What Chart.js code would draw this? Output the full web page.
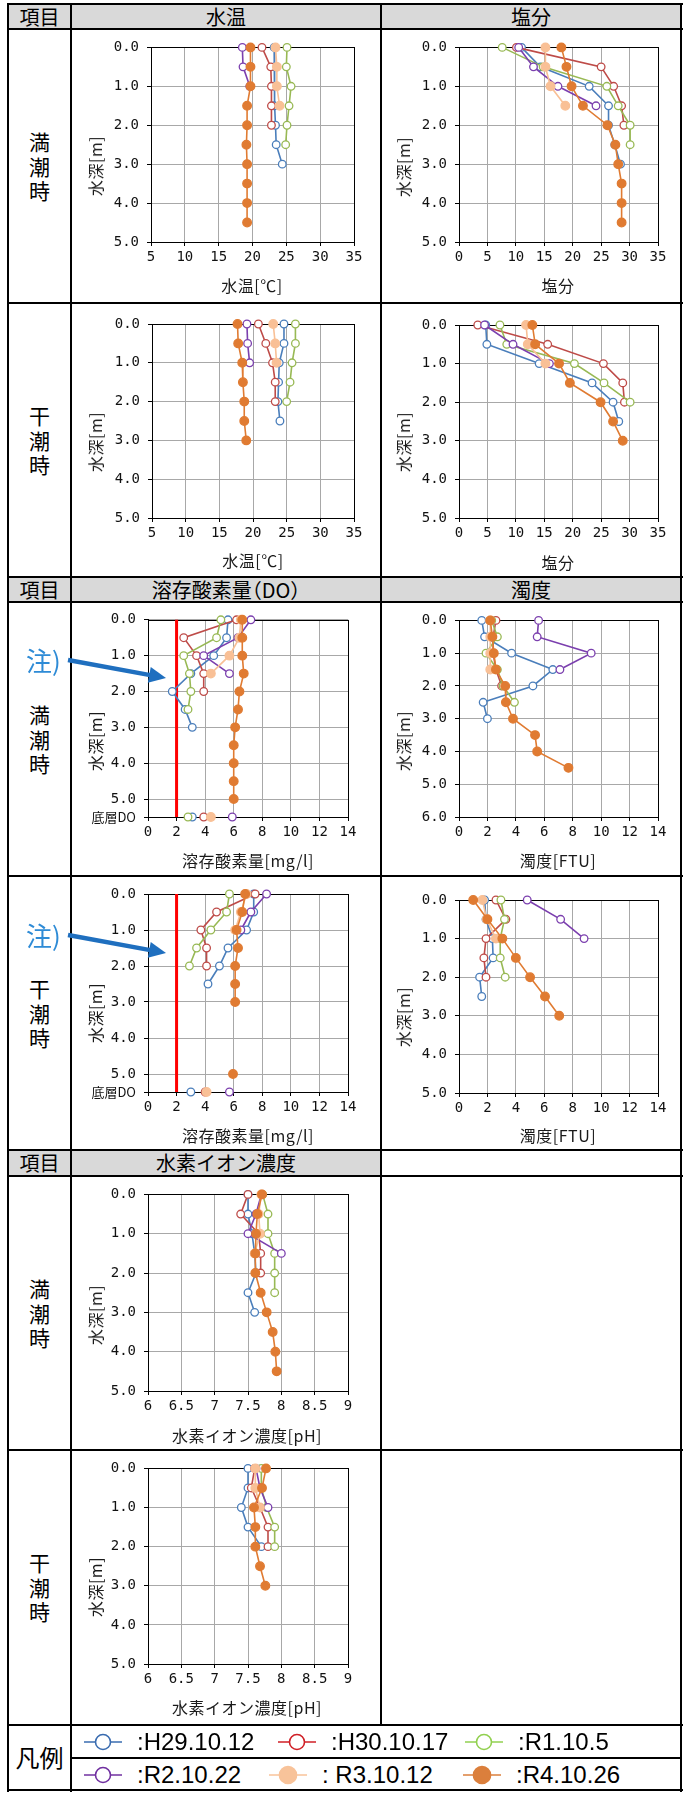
<!DOCTYPE html>
<html lang="ja">
<head>
<meta charset="utf-8">
<title>水質鉛直分布の経年比較</title>
<script src="https://cdn.jsdelivr.net/npm/chart.js@4.4.1/dist/chart.umd.min.js"></script>
<style>
html,body{margin:0;padding:0;background:#fff}
#sheet{position:relative;width:684px;height:1793px;overflow:hidden;font-family:"Noto Sans CJK JP","Noto Sans",sans-serif;color:#000}
.rule{position:absolute;background:#000}
.hdr{position:absolute;background:#d9d9d9}
.txt{position:absolute;white-space:nowrap;transform:translate(-50%,-50%);line-height:1}
.paren{font-feature-settings:"halt"}
.vt{position:absolute;transform:translate(-50%,-50%);font-size:21px;line-height:24.5px;width:26px;text-align:center}
.ytitle{position:absolute;white-space:nowrap;font-size:16px;letter-spacing:0.5px;line-height:1;color:#1a1a1a;transform:translate(-50%,-50%) rotate(-90deg)}
.xtitle{position:absolute;white-space:nowrap;font-size:16px;letter-spacing:0.5px;line-height:1;color:#1a1a1a;transform:translate(-50%,-50%)}
.note{position:absolute;font-size:26px;line-height:1;color:#2E8BD6;transform:translate(0,-50%);white-space:nowrap}
.leg{position:absolute;font-family:"Liberation Sans",Arial,sans-serif;font-size:24px;line-height:24px;white-space:nowrap;color:#000}
canvas{position:absolute}
svg{position:absolute;overflow:visible}
</style>
</head>
<body>
<div id="sheet"></div>
<script>
// ---- survey dates and depth levels ----
const surveyDates = ['H29.10.12', 'H30.10.17', 'R1.10.5', 'R2.10.22', 'R3.10.12', 'R4.10.26'];
const depths = [0, 0.5, 1.0, 1.5, 2.0, 2.5, 3.0, 3.5, 4.0, 4.5, 5.0];
const bottomDepth = 5.5;           // row used for the bottom-layer DO
const doLimit = 2;                 // DO reference value [mg/l]

// ---- tick labels ----
const depthTicks = [0, 1, 2, 3, 4, 5];
const depthTicksTurbHigh = [0, 1, 2, 3, 4, 5, 6];
const depthTicksDO = [0, 1, 2, 3, 4, 5, 5.5];
const tempTicks = [5, 10, 15, 20, 25, 30, 35];
const salTicks = [0, 5, 10, 15, 20, 25, 30, 35];
const doTicks = [0, 2, 4, 6, 8, 10, 12, 14];
const turbTicks = [0, 2, 4, 6, 8, 10, 12, 14];
const phTicks = [6, 6.5, 7, 7.5, 8, 8.5, 9];

// ---- water temperature [°C], high tide ----
const tempHighH29 = [23.2, 23.3, 23.3, 23.2, 23.4, 23.5, 24.4];
const tempHighH30 = [21.4, 22.7, 22.8, 22.8, 22.8];
const tempHighR1 = [25.1, 25.0, 25.7, 25.4, 25.1, 24.9];
const tempHighR2 = [18.5, 18.6, 19.6];
const tempHighR3 = [23.4, 23.6, 23.6, 24.0];
const tempHighR4 = [19.7, 19.7, 19.7, 19.2, 19.2, 19.1, 19.2, 19.2, 19.2, 19.2];

// ---- salinity, high tide ----
const salHighH29 = [11.0, 14.3, 22.9, 26.3, 26.3, 27.4, 28.4];
const salHighH30 = [10.1, 25.0, 27.2, 28.6, 29.0];
const salHighR1 = [7.6, 14.8, 26.0, 28.0, 30.1, 30.1];
const salHighR2 = [10.5, 13.1, 17.4, 24.1];
const salHighR3 = [15.2, 15.2, 16.1, 18.7];
const salHighR4 = [18.0, 18.9, 19.8, 21.8, 26.1, 27.5, 28.0, 28.6, 28.6, 28.6];

// ---- water temperature [°C], low tide ----
const tempLowH29 = [24.6, 24.6, 23.9, 23.8, 23.7, 24.0];
const tempLowH30 = [20.8, 21.9, 22.9, 23.3, 23.3];
const tempLowR1 = [26.3, 26.3, 25.8, 25.5, 25.0];
const tempLowR2 = [19.1, 19.2, 19.5];
const tempLowR3 = [23.0, 23.3, 23.5];
const tempLowR4 = [17.7, 17.8, 18.4, 18.5, 18.7, 18.7, 19.0];

// ---- salinity, low tide ----
const salLowH29 = [4.7, 4.9, 14.1, 23.4, 27.1, 28.1];
const salLowH30 = [3.3, 15.6, 25.4, 28.8, 29.1];
const salLowR1 = [7.2, 8.4, 20.3, 25.5, 30.1];
const salLowR2 = [4.5, 9.5, 15.9];
const salLowR3 = [11.8, 12.1, 15.2];
const salLowR4 = [12.9, 13.4, 17.6, 19.5, 24.9, 27.1, 28.8];

// ---- dissolved oxygen [mg/l], high tide ----
const doHighH29 = [5.6, 5.5, 4.6, 3.0, 1.7, 2.6, 3.1];
const doHighH30 = [6.2, 2.5, 3.4, 3.9, 3.9];
const doHighR1 = [5.1, 4.8, 2.5, 2.9, 3.0, 2.8];
const doHighR2 = [7.2, 6.3, 3.9, 5.7];
const doHighR3 = [6.5, 6.4, 5.7, 4.4];
const doHighR4 = [6.6, 6.6, 6.6, 6.7, 6.4, 6.3, 6.1, 6.0, 6.0, 6.0, 6.0];
const doHighBottom = [3.1, 3.9, 2.8, 5.9, 4.4, null];

// ---- turbidity [FTU], high tide ----
const turbHighH29 = [1.6, 1.8, 3.7, 6.6, 5.2, 1.7, 2.0];
const turbHighH30 = [2.6, 2.4, 2.4, 2.6, 3.0];
const turbHighR1 = [2.3, 2.7, 1.9, 2.7, 3.1, 3.9];
const turbHighR2 = [5.6, 5.5, 9.3, 7.1];
const turbHighR3 = [2.2, 2.2, 2.2, 2.2];
const turbHighR4 = [2.2, 2.35, 2.45, 2.6, 3.25, 3.3, 3.8, 5.35, 5.5, 7.7];

// ---- dissolved oxygen [mg/l], low tide ----
const doLowH29 = [7.4, 7.4, 6.9, 5.6, 5.0, 4.2];
const doLowH30 = [7.5, 4.8, 3.7, 4.1, 4.1];
const doLowR1 = [5.7, 5.5, 4.4, 3.4, 2.9];
const doLowR2 = [8.3, 7.2, 6.5];
const doLowR3 = [6.9, 6.5, 6.1];
const doLowR4 = [6.8, 6.6, 6.2, 6.3, 6.1, 6.1, 6.1, null, null, null, 5.95];
const doLowBottom = [3.0, 4.0, null, 5.7, 4.1, null];

// ---- turbidity [FTU], low tide ----
const turbLowH29 = [1.8, 1.9, 2.35, 2.4, 1.45, 1.6];
const turbLowH30 = [2.6, 3.3, 1.9, 1.75, 1.9];
const turbLowR1 = [2.95, 3.2, 2.9, 2.9, 3.25];
const turbLowR2 = [4.8, 7.15, 8.8];
const turbLowR3 = [1.65, 1.95, 2.6];
const turbLowR4 = [1.0, 2.0, 3.05, 4.0, 5.0, 6.05, 7.05];

// ---- pH, high tide ----
const phHighH29 = [7.5, 7.5, 7.56, 7.6, 7.62, 7.5, 7.6];
const phHighH30 = [7.5, 7.39, 7.66, 7.69, 7.69];
const phHighR1 = [7.72, 7.8, 7.8, 7.9, 7.9, 7.9];
const phHighR2 = [7.7, 7.62, 7.5, 8.0];
const phHighR3 = [7.7, 7.66, 7.68, 7.6];
const phHighR4 = [7.71, 7.64, 7.62, 7.61, 7.61, 7.69, 7.78, 7.87, 7.91, 7.93];

// ---- pH, low tide ----
const phLowH29 = [7.5, 7.5, 7.4, 7.5, 7.7];
const phLowH30 = [7.6, 7.55, 7.68, 7.8, 7.8];
const phLowR1 = [7.7, 7.7, 7.78, 7.9, 7.9];
const phLowR2 = [7.62, 7.68, 7.8];
const phLowR3 = [7.61, 7.61, 7.68];
const phLowR4 = [7.77, 7.71, 7.59, 7.61, 7.61, 7.68, 7.76];

// ---- series styling ----
const seriesColors = ['#4A7EBB', '#BE4B48', '#98B954', '#7B3FAE', '#F9C096', '#E07B32'];
const seriesFilled = [false, false, false, false, true, true];
const legendColors = ['#3A6CB0', '#D01F26', '#92D050', '#7030A0', '#F8C39A', '#DB7F3C'];

const sheet = document.getElementById('sheet');
function el(tag, cls, css, text) {
  const e = document.createElement(tag);
  if (cls) e.className = cls;
  Object.assign(e.style, css || {});
  if (text !== undefined) e.textContent = text;
  sheet.appendChild(e);
  return e;
}
const px = v => v + 'px';

// ---- table frame ----
const hdrRows = [[4, 29, true], [577, 602, true], [1150, 1176, false]];
hdrRows.forEach(([t, b, both]) => {
  el('div', 'hdr', {left: px(8), top: px(t), width: px(both ? 673 : 373), height: px(b - t)});
});
[4, 29, 303, 577, 602, 876, 1150, 1176, 1450, 1725, 1790].forEach(y =>
  el('div', 'rule', {left: px(7), top: px(y - 1), width: px(676), height: px(2)}));
el('div', 'rule', {left: px(71), top: px(1757), width: px(611), height: px(2)});
[[8, 4, 1791], [71, 4, 1791], [381, 4, 1725], [681, 4, 1791]].forEach(([x, t, b]) =>
  el('div', 'rule', {left: px(x - 1), top: px(t - 1), width: px(2), height: px(b - t + 2)}));

// header captions
[[16.5, '項目', '水温', '塩分'], [589.5, '項目', '溶存酸素量（DO）', '濁度'], [1163, '項目', '水素イオン濃度', '']]
  .forEach(([y, a, b, c]) => {
    el('div', 'txt', {left: px(39.5), top: px(y), fontSize: '20px'}, a);
    el('div', 'txt paren', {left: px(226), top: px(y), fontSize: '20px'}, b);
    if (c) el('div', 'txt', {left: px(531), top: px(y), fontSize: '20px'}, c);
  });

// tide labels in the first column
const rowCentres = [[166, '満潮時'], [440, '干潮時'], [739, '満潮時'], [1013, '干潮時'], [1313, '満潮時'], [1587, '干潮時']];
rowCentres.forEach(([y, s]) => {
  const d = el('div', 'vt', {left: px(39.5), top: px(y)});
  d.innerHTML = s.split('').join('<br>');
});
el('div', 'txt', {left: px(39.5), top: px(1757), fontSize: '24px'}, '凡例');

// ---- chart helpers ----
const Y_W = 60, X_H = 26;
const tickFont = {family: "'DejaVu Sans Mono',monospace", size: 14};
const cjkTickFont = {family: "'Noto Sans CJK JP',sans-serif", size: 13};

const plotFrame = {
  id: 'plotFrame',
  beforeDatasetsDraw(chart) {
    const {ctx, chartArea: a} = chart;
    ctx.save();
    ctx.strokeStyle = '#000';
    ctx.lineWidth = 1;
    ctx.strokeRect(Math.round(a.left) + 0.5, Math.round(a.top) + 0.5,
      Math.round(a.right) - Math.round(a.left), Math.round(a.bottom) - Math.round(a.top));
    ctx.restore();
  }
};

function seriesDataset(values, i, yOf) {
  const filled = seriesFilled[i];
  return {
    label: surveyDates[i],
    data: values.map((v, k) => ({x: v, y: yOf ? yOf(k) : depths[k]})),
    showLine: true,
    spanGaps: false,
    clip: false,
    borderColor: seriesColors[i],
    borderWidth: 1.6,
    pointRadius: filled ? 4.3 : 3.8,
    pointBorderWidth: 1.3,
    pointBorderColor: seriesColors[i],
    pointBackgroundColor: filled ? seriesColors[i] : '#ffffff',
    order: 10 - i
  };
}

function profileChart(spec) {
  const [cl, ct, cr, cb] = spec.cell;
  const [pl, pt, pr, pb] = spec.plot;
  const cv = document.createElement('canvas');
  cv.width = cr - cl; cv.height = cb - ct;
  Object.assign(cv.style, {left: px(cl), top: px(ct), width: px(cr - cl), height: px(cb - ct)});
  sheet.appendChild(cv);

  const datasets = spec.series.map((vals, i) => seriesDataset(vals, i));
  if (spec.bottom) {
    spec.bottom.forEach((v, i) => {
      if (v === null) return;
      const ds = seriesDataset([v], i, () => bottomDepth);
      ds.showLine = false;
      datasets.push(ds);
    });
  }
  if (spec.limit !== undefined) {
    datasets.push({
      label: 'limit',
      data: [{x: spec.limit, y: 0}, {x: spec.limit, y: spec.yMax}],
      showLine: true, clip: false, borderColor: '#FF0000', borderWidth: 3,
      pointRadius: 0, order: 50
    });
  }

  const gridOpts = {color: '#A8A8A8', lineWidth: 1, tickLength: 4, tickColor: '#000', drawTicks: true};

  new Chart(cv, {
    type: 'scatter',
    data: {datasets},
    options: {
      responsive: false, animation: false, devicePixelRatio: 1,
      layout: {padding: {left: pl - cl - Y_W, top: pt - ct, right: cr - pr, bottom: cb - pb - X_H}},
      plugins: {legend: {display: false}, tooltip: {enabled: false}},
      scales: {
        x: {
          type: 'linear', position: 'bottom',
          min: spec.xTicks[0], max: spec.xTicks[spec.xTicks.length - 1],
          afterBuildTicks: s => { s.ticks = spec.xTicks.map(v => ({value: v})); },
          afterFit: s => { s.height = X_H; },
          grid: gridOpts,
          border: {color: '#000', width: 1},
          ticks: {autoSkip: false, maxRotation: 0, padding: 3, color: '#111', font: tickFont,
            callback: v => String(v)}
        },
        y: {
          type: 'linear', position: 'left', reverse: true,
          min: 0, max: spec.yMax,
          afterBuildTicks: s => { s.ticks = spec.yTicks.map(v => ({value: v})); },
          afterFit: s => { s.width = Y_W; },
          grid: gridOpts,
          border: {color: '#000', width: 1},
          ticks: {autoSkip: false, padding: 8, color: '#111',
            font: c => (c.tick && c.tick.value === bottomDepth && spec.bottomLabel) ? cjkTickFont : tickFont,
            callback: v => (v === bottomDepth && spec.bottomLabel) ? spec.bottomLabel : Number(v).toFixed(1)}
        }
      }
    },
    plugins: [plotFrame]
  });

  el('div', 'ytitle', {left: px(spec.yTitle[0]), top: px(spec.yTitle[1])}, '水深[m]');
  el('div', 'xtitle', {left: px(spec.xTitle[0]), top: px(spec.xTitle[1])}, spec.xLabel);
}

// ---- the ten profile charts ----
const L = [73, 380], R = [383, 680];
const chartSpecs = [
  {cell: [L[0], 31, L[1], 302], plot: [151, 47, 354, 242], xTicks: tempTicks, yMax: 5, yTicks: depthTicks,
   series: [tempHighH29, tempHighH30, tempHighR1, tempHighR2, tempHighR3, tempHighR4],
   yTitle: [95, 166], xTitle: [252, 285], xLabel: '水温[℃]'},
  {cell: [R[0], 31, R[1], 302], plot: [459, 47, 658, 242], xTicks: salTicks, yMax: 5, yTicks: depthTicks,
   series: [salHighH29, salHighH30, salHighR1, salHighR2, salHighR3, salHighR4],
   yTitle: [403, 167], xTitle: [558, 285], xLabel: '塩分'},
  {cell: [L[0], 305, L[1], 576], plot: [152, 324, 354, 518], xTicks: tempTicks, yMax: 5, yTicks: depthTicks,
   series: [tempLowH29, tempLowH30, tempLowR1, tempLowR2, tempLowR3, tempLowR4],
   yTitle: [95, 442], xTitle: [253, 560], xLabel: '水温[℃]'},
  {cell: [R[0], 305, R[1], 576], plot: [459, 325, 658, 518], xTicks: salTicks, yMax: 5, yTicks: depthTicks,
   series: [salLowH29, salLowH30, salLowR1, salLowR2, salLowR3, salLowR4],
   yTitle: [403, 442], xTitle: [558, 562], xLabel: '塩分'},
  {cell: [L[0], 604, L[1], 875], plot: [148, 619, 348, 817], xTicks: doTicks, yMax: bottomDepth, yTicks: depthTicksDO,
   series: [doHighH29, doHighH30, doHighR1, doHighR2, doHighR3, doHighR4], bottom: doHighBottom,
   bottomLabel: '底層DO', limit: doLimit,
   yTitle: [95, 741], xTitle: [248, 860], xLabel: '溶存酸素量[mg/l]'},
  {cell: [R[0], 604, R[1], 875], plot: [459, 619, 658, 817], xTicks: turbTicks, yMax: 6, yTicks: depthTicksTurbHigh,
   series: [turbHighH29, turbHighH30, turbHighR1, turbHighR2, turbHighR3, turbHighR4],
   yTitle: [403, 741], xTitle: [558, 860], xLabel: '濁度[FTU]'},
  {cell: [L[0], 878, L[1], 1149], plot: [148, 894, 348, 1092], xTicks: doTicks, yMax: bottomDepth, yTicks: depthTicksDO,
   series: [doLowH29, doLowH30, doLowR1, doLowR2, doLowR3, doLowR4], bottom: doLowBottom,
   bottomLabel: '底層DO', limit: doLimit,
   yTitle: [95, 1013], xTitle: [248, 1135], xLabel: '溶存酸素量[mg/l]'},
  {cell: [R[0], 878, R[1], 1149], plot: [459, 900, 658, 1093], xTicks: turbTicks, yMax: 5, yTicks: depthTicks,
   series: [turbLowH29, turbLowH30, turbLowR1, turbLowR2, turbLowR3, turbLowR4],
   yTitle: [403, 1017], xTitle: [558, 1135], xLabel: '濁度[FTU]'},
  {cell: [L[0], 1178, L[1], 1449], plot: [148, 1194, 348, 1391], xTicks: phTicks, yMax: 5, yTicks: depthTicks,
   series: [phHighH29, phHighH30, phHighR1, phHighR2, phHighR3, phHighR4],
   yTitle: [95, 1315], xTitle: [247, 1435], xLabel: '水素イオン濃度[pH]'},
  {cell: [L[0], 1452, L[1], 1724], plot: [148, 1468, 348, 1664], xTicks: phTicks, yMax: 5, yTicks: depthTicks,
   series: [phLowH29, phLowH30, phLowR1, phLowR2, phLowR3, phLowR4],
   yTitle: [95, 1587], xTitle: [247, 1707], xLabel: '水素イオン濃度[pH]'}
];
chartSpecs.forEach(profileChart);

// ---- "注)" callouts pointing at the DO reference line ----
const NS = 'http://www.w3.org/2000/svg';
function callout(y) {
  el('div', 'note', {left: px(26), top: px(y)}, '注)');
  const svg = document.createElementNS(NS, 'svg');
  svg.setAttribute('width', '684'); svg.setAttribute('height', '40');
  Object.assign(svg.style, {left: '0px', top: px(y - 10)});
  const x0 = 68, y0 = 10, x1 = 166, y1 = 28;
  const len = Math.hypot(x1 - x0, y1 - y0), ux = (x1 - x0) / len, uy = (y1 - y0) / len;
  const hl = 17, hw = 8;
  const bx = x1 - ux * hl, by = y1 - uy * hl;
  const line = document.createElementNS(NS, 'line');
  line.setAttribute('x1', x0); line.setAttribute('y1', y0);
  line.setAttribute('x2', bx + ux); line.setAttribute('y2', by + uy);
  line.setAttribute('stroke', '#1F6FBF'); line.setAttribute('stroke-width', '4.5');
  svg.appendChild(line);
  const head = document.createElementNS(NS, 'polygon');
  head.setAttribute('points', `${x1},${y1} ${bx - uy * hw},${by + ux * hw} ${bx + uy * hw},${by - ux * hw}`);
  head.setAttribute('fill', '#1F6FBF');
  svg.appendChild(head);
  sheet.appendChild(svg);
}
callout(660);
callout(935);

// ---- legend ----
const legendItems = [
  [0, 103, 1742, ':H29.10.12'], [1, 297, 1742, ':H30.10.17'], [2, 484, 1742, ':R1.10.5'],
  [3, 103, 1775, ':R2.10.22'], [4, 288, 1775, ': R3.10.12'], [5, 482, 1775, ':R4.10.26']
];
legendItems.forEach(([i, cx, cy, label]) => {
  const svg = document.createElementNS(NS, 'svg');
  svg.setAttribute('width', '44'); svg.setAttribute('height', '22');
  Object.assign(svg.style, {left: px(cx - 22), top: px(cy - 11)});
  const ln = document.createElementNS(NS, 'line');
  ln.setAttribute('x1', 3); ln.setAttribute('y1', 11); ln.setAttribute('x2', 41); ln.setAttribute('y2', 11);
  ln.setAttribute('stroke', legendColors[i]); ln.setAttribute('stroke-width', '1.5');
  svg.appendChild(ln);
  const c = document.createElementNS(NS, 'circle');
  c.setAttribute('cx', 22); c.setAttribute('cy', 11); c.setAttribute('r', seriesFilled[i] ? 8.5 : 7.5);
  c.setAttribute('stroke', legendColors[i]); c.setAttribute('stroke-width', '1.6');
  c.setAttribute('fill', seriesFilled[i] ? legendColors[i] : '#ffffff');
  svg.appendChild(c);
  sheet.appendChild(svg);
  el('div', 'leg', {left: px(cx + 34), top: px(cy - 12)}, label);
});
</script>
</body>
</html>
